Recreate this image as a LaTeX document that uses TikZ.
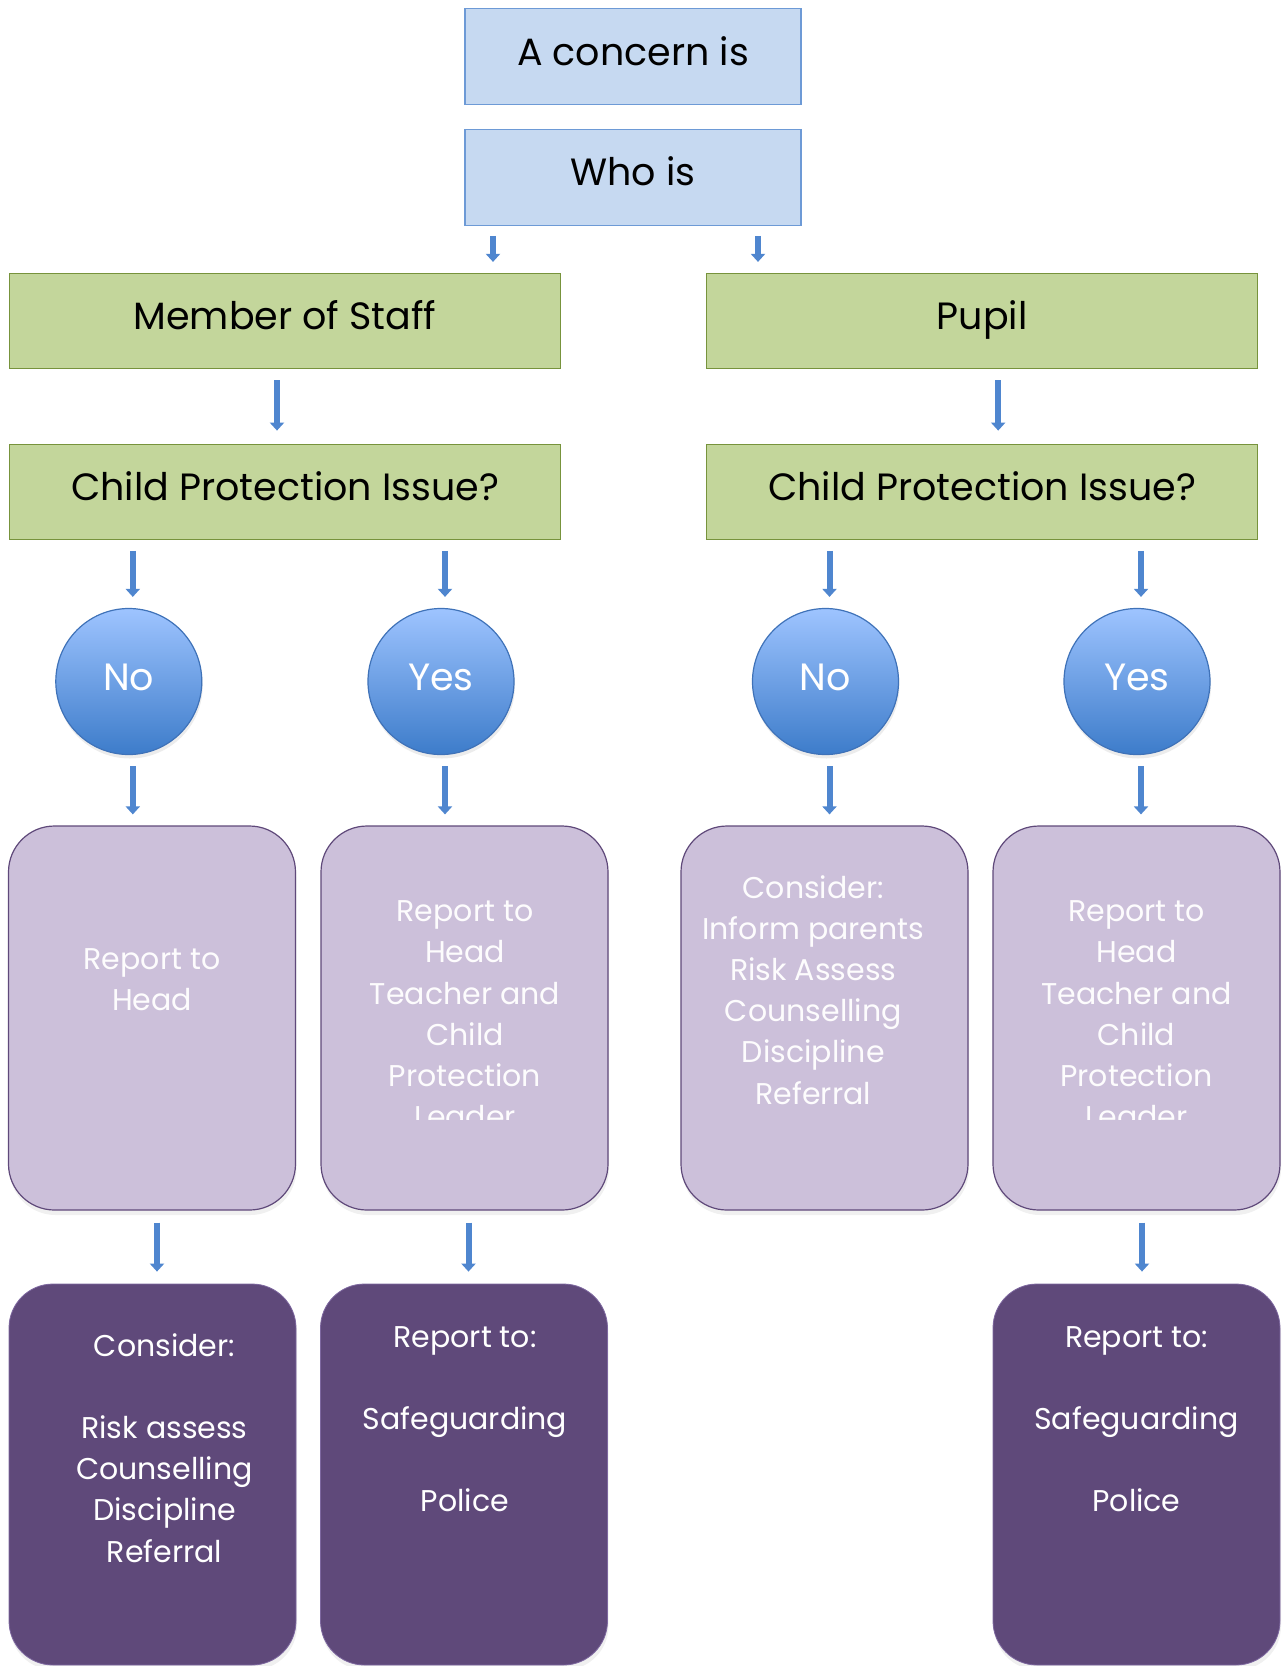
\documentclass[tikz,border=0pt]{standalone}
\usepackage{fontspec}
\setmainfont{Poppins}
\usepackage{tikz}
\usetikzlibrary{positioning}
\usetikzlibrary{arrows.meta,shadows}
\definecolor{boxblue}{HTML}{C6D9F1}
\definecolor{lineblue}{HTML}{6D9AD6}
\definecolor{boxgreen}{HTML}{C3D69B}
\definecolor{linegreen}{HTML}{77933C}
\definecolor{lilac}{HTML}{CCC0DA}
\definecolor{plum}{HTML}{5F497A}
\definecolor{plumline}{HTML}{7E68A0}
\definecolor{balltop}{HTML}{9EC4FF}
\definecolor{ballbot}{HTML}{3D7CCA}
\definecolor{ballline}{HTML}{3F72B8}
\definecolor{arrowblue}{HTML}{4F86CF}
\newcommand{\bigtxt}[0]{\fontsize{38}{46}\selectfont}
\newcommand{\smalltxt}[0]{\fontsize{30}{41.2}\selectfont}

\begin{document}
\begin{tikzpicture}[x=1pt, y=-1pt,
    qbox/.style={draw=lineblue, line width=1.2pt, fill=boxblue, minimum width=336pt,
      minimum height=96pt, font=\bigtxt, text height=26.6pt, text depth=9.1pt},
    wbox/.style={draw=linegreen, line width=1.2pt, fill=boxgreen, minimum width=551pt,
      minimum height=95pt, font=\bigtxt, text height=26.6pt, text depth=9.1pt},
    ball/.style={circle, draw=ballline, line width=1.2pt, top color=balltop, bottom color=ballbot,
      minimum size=146pt, font=\bigtxt, text=white, text height=26.6pt, text depth=9.1pt,
      drop shadow={opacity=0.15, shadow xshift=1pt, shadow yshift=-4pt}},
    softbox/.style={rounded corners=46pt, draw=plum, line width=1.2pt, fill=lilac,
      minimum width=287pt, minimum height=384pt,
      drop shadow={opacity=0.12, shadow xshift=1pt, shadow yshift=-5pt}},
    darkbox/.style={rounded corners=44pt, draw=plumline, line width=0.8pt, fill=plum,
      minimum width=287pt, minimum height=381pt,
      drop shadow={opacity=0.12, shadow xshift=1pt, shadow yshift=-5pt}},
    boxtext/.style={align=center, font=\smalltxt, inner sep=0pt, anchor=base},
    flowarrow/.style={draw=arrowblue, line width=6pt, -{Triangle[width=14pt,length=8pt]},
      shorten <=11pt, shorten >=11pt}]
  \useasboundingbox (0,0) rectangle (1282,1666);

  \node(concern) [qbox] at (633,56.5) {A concern is};
  \node(who) [qbox, below=23.5pt of concern] {Who is};
  \node(staff) [wbox] at (285,321) {Member of Staff};
  \node(pupil) [wbox, right=145pt of staff] {Pupil};
  \node(cpis) [wbox, below=74.5pt of staff] {Child Protection Issue?};
  \node(cpip) [wbox, below=74.5pt of pupil] {Child Protection Issue?};

  \node(nos) [ball] at (128.8,681.5) {No};
  \node(yess) [ball] at (441,681.5) {Yes};
  \node(nop) [ball] at (825.5,681.5) {No};
  \node(yesp) [ball] at (1137,681.5) {Yes};

  \node(reps) [softbox] at (152,1018) {};
  \node(cpls) [softbox] at (464.5,1018) {};
  \node(actp) [softbox] at (824.5,1018) {};
  \node(cplp) [softbox] at (1136.5,1018) {};

  \node(cons) [darkbox] at (152.5,1474.5) {};
  \node(safs) [darkbox] at (464,1474.5) {};
  \node(safp) [darkbox] at (1136.5,1474.5) {};

  % texts of the lilac boxes (placed at the baseline of their last line)
  \node(repstxt) [boxtext, text=white!96!lilac] at (152,1010.2) {Report to\\Head};
  \begin{scope}
    \clip (cpls.north west) rectangle ([yshift=-294pt]cpls.north east);
    \node(cplstxt) [boxtext, text=white!96!lilac] at (465,1127.7)
      {Report to\\Head\\Teacher and\\Child\\Protection\\Leader};
  \end{scope}
  \node(actptxt) [boxtext, text=white!96!lilac] at (813.3,1104)
    {Consider:\\Inform parents\\Risk Assess\\Counselling\\Discipline\\Referral};
  \begin{scope}
    \clip (cplp.north west) rectangle ([yshift=-294pt]cplp.north east);
    \node(cplptxt) [boxtext, text=white!96!lilac] at (1136.5,1127.7)
      {Report to\\Head\\Teacher and\\Child\\Protection\\Leader};
  \end{scope}

  % texts of the dark boxes
  \node(constxt) [boxtext, text=white] at (164.5,1562)
    {Consider:\\[41.2pt]Risk assess\\Counselling\\Discipline\\Referral};
  \node(safstxt) [boxtext, text=white] at (465,1511.8)
    {Report to:\\[41.2pt]Safeguarding\\[41.2pt]Police};
  \node(safptxt) [boxtext, text=white] at (1136.5,1511.8)
    {Report to:\\[41.2pt]Safeguarding\\[41.2pt]Police};

  \draw[flowarrow, shorten <=10pt] ([xshift=-140pt]who.south) -- ([xshift=-140pt]who.south |- staff.north);
  \draw[flowarrow, shorten <=10pt] ([xshift=125pt]who.south) -- ([xshift=125pt]who.south |- pupil.north);
  \draw[flowarrow, shorten >=13pt] ([xshift=-8pt]staff.south) -- ([xshift=-8pt]cpis.north);
  \draw[flowarrow, shorten >=13pt] ([xshift=16pt]pupil.south) -- ([xshift=16pt]cpip.north);
  \draw[flowarrow] ([xshift=4pt]cpis.south -| nos.north) -- ([xshift=4pt]nos.north);
  \draw[flowarrow] ([xshift=4pt]cpis.south -| yess.north) -- ([xshift=4pt]yess.north);
  \draw[flowarrow] ([xshift=4pt]cpip.south -| nop.north) -- ([xshift=4pt]nop.north);
  \draw[flowarrow] ([xshift=4pt]cpip.south -| yesp.north) -- ([xshift=4pt]yesp.north);
  \draw[flowarrow] ([xshift=4pt]nos.south) -- ([xshift=4pt]nos.south |- reps.north);
  \draw[flowarrow] ([xshift=4pt]yess.south) -- ([xshift=4pt]yess.south |- cpls.north);
  \draw[flowarrow] ([xshift=4pt]nop.south) -- ([xshift=4pt]nop.south |- actp.north);
  \draw[flowarrow] ([xshift=4pt]yesp.south) -- ([xshift=4pt]yesp.south |- cplp.north);
  \draw[flowarrow, shorten <=12pt, shorten >=12pt] ([xshift=5pt]reps.south) -- ([xshift=5pt]reps.south |- cons.north);
  \draw[flowarrow, shorten <=12pt, shorten >=12pt] ([xshift=4pt]cpls.south) -- ([xshift=4pt]cpls.south |- safs.north);
  \draw[flowarrow, shorten <=12pt, shorten >=12pt] ([xshift=5.5pt]cplp.south) -- ([xshift=5.5pt]cplp.south |- safp.north);
\end{tikzpicture}
\end{document}
